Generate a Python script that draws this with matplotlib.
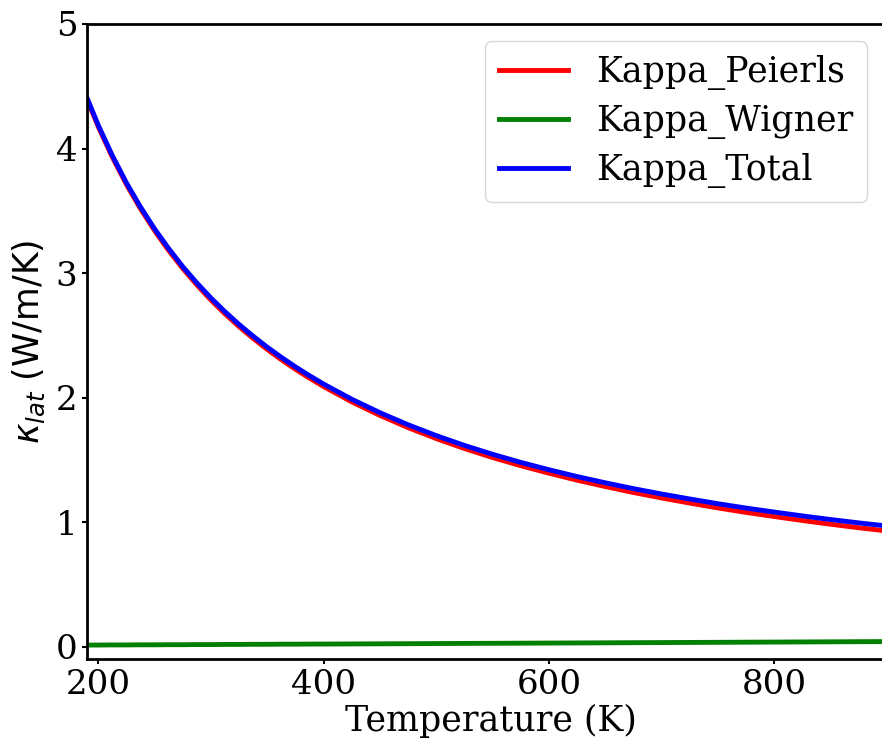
"""Lattice thermal conductivity vs temperature: Peierls, Wigner and total."""

import matplotlib
import matplotlib.pyplot as plt
import numpy as np

matplotlib.use("Agg")

# values
temperature = [190, 200, 212, 225, 237, 250, 262, 275, 287, 300, 312, 325,
               337, 350, 362, 375, 387, 400, 425, 450, 475, 500, 525, 550,
               575, 600, 625, 650, 675, 700, 725, 750, 775, 800, 825, 850,
               875, 900]
kappa_peierls = [4.395, 4.175, 3.939, 3.711, 3.523, 3.340, 3.187, 3.036,
                 2.909, 2.783, 2.676, 2.569, 2.478, 2.386, 2.307, 2.227,
                 2.158, 2.088, 1.965, 1.856, 1.758, 1.670, 1.590, 1.518,
                 1.452, 1.392, 1.336, 1.285, 1.237, 1.193, 1.152, 1.113,
                 1.077, 1.044, 1.012, 0.982, 0.954, 0.928]
kappa_wigner = [0.012, 0.012, 0.013, 0.013, 0.014, 0.014, 0.015, 0.015,
                0.016, 0.016, 0.017, 0.017, 0.018, 0.018, 0.019, 0.019,
                0.020, 0.020, 0.021, 0.022, 0.023, 0.024, 0.025, 0.026,
                0.027, 0.028, 0.029, 0.030, 0.031, 0.032, 0.033, 0.034,
                0.035, 0.036, 0.037, 0.038, 0.039, 0.040]
kappa_total = list(np.add(kappa_peierls, kappa_wigner))

plt.rcParams["font.family"] = "DejaVu Serif"
plt.rcParams["mathtext.fontset"] = "dejavusans"


def main():
    fig = plt.figure(figsize=(8.82, 7.49), dpi=100)
    # axes runs a little past the right edge of the canvas, as in the original crop
    ax = fig.add_axes([87 / 882, 90 / 749, 808 / 882, 635 / 749])

    ax.plot(temperature, kappa_peierls, color="red", lw=3.5, label="Kappa_Peierls")
    ax.plot(temperature, kappa_wigner, color="green", lw=3.5, label="Kappa_Wigner")
    ax.plot(temperature, kappa_total, color="blue", lw=3.5, label="Kappa_Total")

    ax.set_xlim(190, 907)
    ax.set_ylim(-0.1, 5)
    ax.set_xticks([200, 400, 600, 800])
    ax.set_yticks([0, 1, 2, 3, 4, 5])
    ax.tick_params(labelsize=24.5, width=1.5)
    for sp in ax.spines.values():
        sp.set_linewidth(2)

    ax.set_xlabel("Temperature (K)", fontsize=25, labelpad=2)
    ax.set_ylabel(r"$\kappa_{lat}\ \mathrm{(W/m/K)}$", fontsize=25, labelpad=6)
    ax.legend(fontsize=25, loc="upper right", labelspacing=0.4, handlelength=2.0,
              bbox_to_anchor=(0.987, 1.0))

    fig.savefig("out.png", dpi=100)
    plt.close(fig)


if __name__ == "__main__":
    main()
